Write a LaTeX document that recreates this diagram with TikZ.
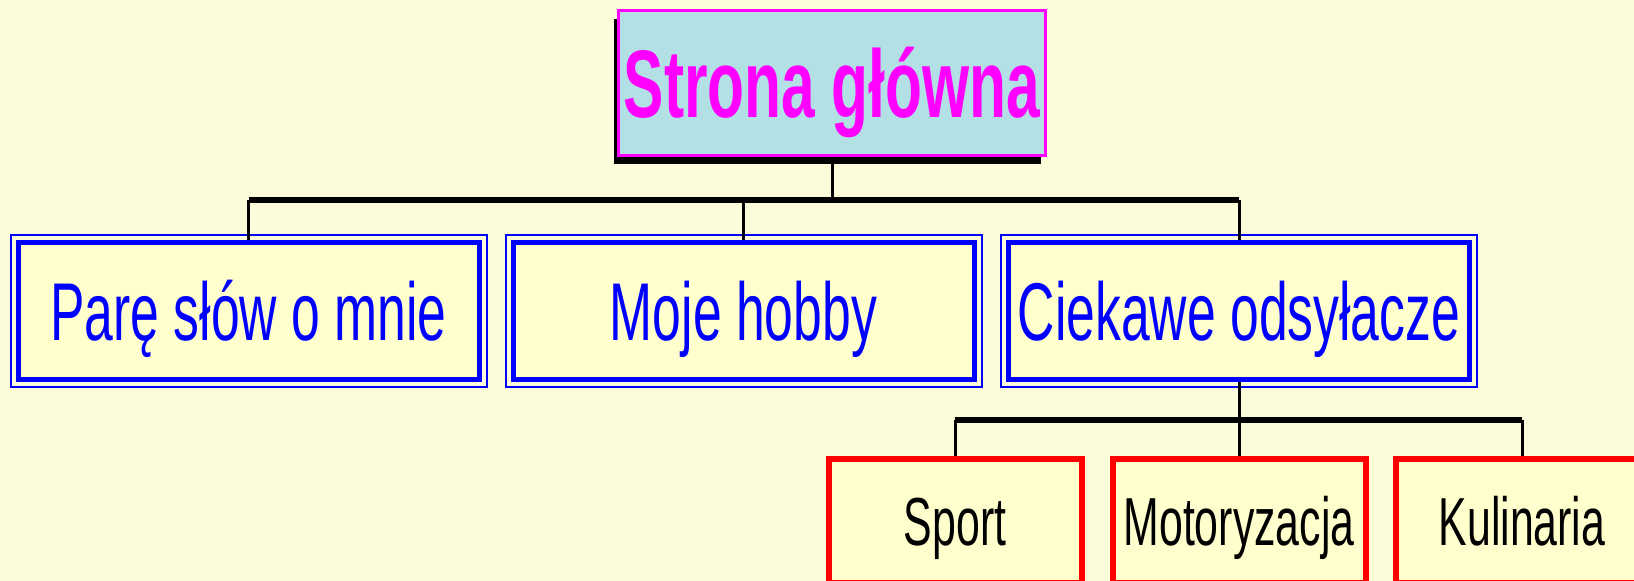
\documentclass[tikz,border=0pt]{standalone}
\usepackage{fontspec}
\setmainfont[FakeStretch=0.63]{Liberation Sans}
\usetikzlibrary{shadows}
\definecolor{bgyellow}{RGB}{251,251,217}
\definecolor{boxyellow}{RGB}{255,255,206}
\definecolor{powder}{RGB}{178,224,228}
\definecolor{pink}{RGB}{255,0,255}

\begin{document}
\begin{tikzpicture}[x=1pt, y=-1pt,
    homebox/.style={draw=pink, line width=3pt, fill=powder, text=pink,
        minimum width=427pt, minimum height=145pt, inner sep=0pt,
        font=\fontsize{96}{100}\selectfont\bfseries, text height=69pt, text depth=0pt,
        drop shadow={shadow xshift=-5pt, shadow yshift=-8pt, opacity=1, fill=black}},
    pagebox/.style={draw=blue, line width=5pt, fill=boxyellow, text=blue,
        minimum width=461pt, minimum height=137pt, inner sep=0pt,
        font=\fontsize{82}{90}\selectfont, text height=59pt, text depth=0pt},
    frame/.style={draw=blue, line width=2pt},
    topicbox/.style={draw=red, line width=6pt, fill=boxyellow,
        minimum width=253pt, minimum height=124pt, inner sep=0pt,
        font=\fontsize{68}{74}\selectfont, text height=49pt, text depth=0pt},
    stem/.style={line width=3pt},
    bar/.style={line width=6pt}]
    \useasboundingbox (0,0) rectangle (1634,581);
    \fill[bgyellow] (0,0) rectangle (1634,581);

    % Home page
    \node[homebox] (home) at (832,83) {Strona główna};

    % Second level
    \node[pagebox] (about) at (248.5,310.5) {Parę słów o mnie};
    \node[pagebox] (hobby) at (743.5,310.5) {Moje hobby};
    \node[pagebox] (links) at (1239,310.5) {Ciekawe odsyłacze};
    \foreach \n in {about,hobby,links}
        \draw[frame] ([shift={(-5,-5)}]\n.north west) rectangle ([shift={(5,5)}]\n.south east);

    % Third level
    \node[topicbox] (sport) at (955,521) {Sport};
    \node[topicbox] (moto) at (1239,521) {Motoryzacja};
    \node[topicbox] (food) at (1522,521) {Kulinaria};

    % Tree lines
    \coordinate (bar1) at (832,200);
    \coordinate (bar2) at (1239,420);
    \draw[stem] (home.south) -- (bar1);
    \draw[bar] (bar1 -| about) -- (bar1 -| links);
    \foreach \n in {about,hobby,links}
        \draw[stem] (bar1 -| \n) -- (\n.north);
    \draw[stem] (links.south) -- (bar2);
    \draw[bar] (bar2 -| sport) -- (bar2 -| food);
    \foreach \n in {sport,moto,food}
        \draw[stem] (bar2 -| \n) -- (\n.north);
\end{tikzpicture}
\end{document}
